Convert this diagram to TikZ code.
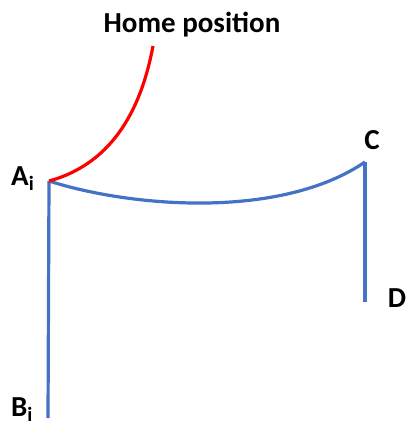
\documentclass[tikz,border=0pt]{standalone}
\usepackage{fontspec}
\setmainfont{Carlito}
\usepackage{tikz}
\usetikzlibrary{positioning}
\definecolor{armblue}{HTML}{4472C4}
\definecolor{homered}{HTML}{FF0000}

\begin{document}
\begin{tikzpicture}[x=1pt, y=-1pt, lbl/.style={font=\fontsize{29}{33}\selectfont\bfseries, inner sep=0pt}, arm/.style={armblue, line width=3.2pt}, homepath/.style={homered, line width=3.2pt}]
\useasboundingbox (0,0) rectangle (406,429);
\coordinate (a) at (49,181);
\coordinate (b) at (48,418);
\coordinate (c) at (365,162);
\coordinate (d) at (365,302);
\coordinate (h) at (153,46);
\node[lbl] (home) at (192,25) {Home position};
\node[lbl, anchor=base west] (Ai) at (11,185) {A\textsubscript{i}};
\node[lbl, anchor=base west] (Bi) at (11,416) {B\textsubscript{i}};
\node[lbl] (C) at (372,140) {C};
\node[lbl] (D) at (397,298) {D};
\draw[arm] (b)--(a);
\draw[arm] (a) .. controls (130,207) and (280,220) .. (c);
\draw[arm] (c)--(d);
\draw[homepath] (a) .. controls (115,163) and (142,105) .. (h);
\end{tikzpicture}
\end{document}
